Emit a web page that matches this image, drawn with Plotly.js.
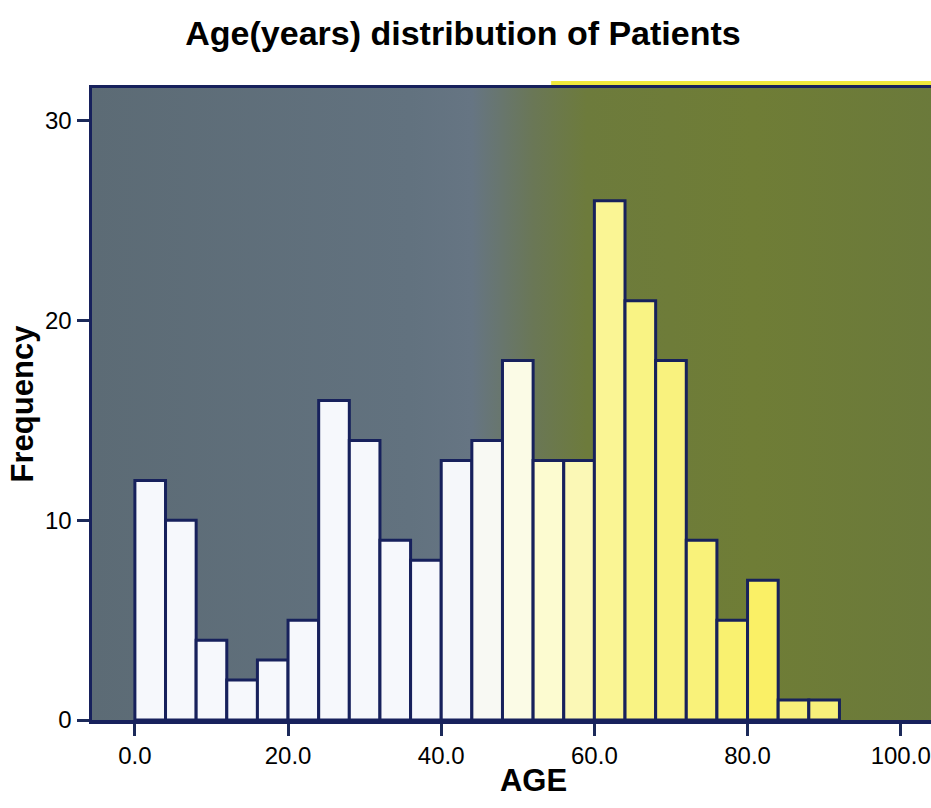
<!DOCTYPE html>
<html>
<head>
<meta charset="utf-8">
<script src="https://cdn.plot.ly/plotly-3.0.1.min.js"></script>
<style>
  html, body { margin: 0; padding: 0; overflow: hidden; background: #fff; }
  #chart { width: 975px; height: 808px; }
</style>
</head>
<body>
<div id="chart"></div>
<script>
// Histogram bins (age, years) - bin width 4, starting at 0
const binStarts = [0, 4, 8, 12, 16, 20, 24, 28, 32, 36, 40, 44, 48, 52, 56, 60, 64, 68, 72, 76, 80, 84, 88];
const frequencies = [12, 10, 4, 2, 3, 5, 16, 14, 9, 8, 13, 14, 18, 13, 13, 26, 21, 18, 9, 5, 7, 1, 1];
const binWidth = 4;
const xTickVals = [0, 20, 40, 60, 80, 100];
const xTickText = ["0.0", "20.0", "40.0", "60.0", "80.0", "100.0"];
const yTickVals = [0, 10, 20, 30];

// bar fill colours (white on left fading to yellow on right)
const barColors = [
  "#f6f8fc", "#f6f8fc", "#f6f8fc", "#f6f8fc", "#f6f8fc", "#f6f8fc",
  "#f6f8fc", "#f6f8fc", "#f6f8fc", "#f6f8fc", "#f5f7fa", "#f8f9f3",
  "#fbfbe6", "#fcfbd0", "#fbf8b6", "#faf594", "#f9f384", "#f9f27e",
  "#f9f27a", "#f9f170", "#faf066", "#f8f07a", "#f8f07a"
];

const centers = binStarts.map(s => s + binWidth / 2);

const trace = {
  type: "bar",
  x: centers,
  y: frequencies,
  width: binStarts.map(() => binWidth),
  marker: {
    color: barColors,
    line: { color: "#17215c", width: 3 }
  },
  hoverinfo: "x+y"
};

const gradSvg =
  '<svg xmlns="http://www.w3.org/2000/svg" width="100" height="100" preserveAspectRatio="none">' +
  '<defs><linearGradient id="g" x1="0" y1="0" x2="1" y2="0">' +
  '<stop offset="0" stop-color="#5c6b75"/>' +
  '<stop offset="0.36" stop-color="#62727f"/>' +
  '<stop offset="0.43" stop-color="#667583"/>' +
  '<stop offset="0.50" stop-color="#6a7756"/>' +
  '<stop offset="0.56" stop-color="#6d7b3c"/>' +
  '<stop offset="0.75" stop-color="#6f7d36"/>' +
  '<stop offset="1" stop-color="#6a793c"/>' +
  '</linearGradient></defs>' +
  '<rect width="100" height="100" fill="url(#g)"/></svg>';
const gradUri = "data:image/svg+xml;charset=utf-8," + encodeURIComponent(gradSvg);

const FONT = "Liberation Sans, Arial, sans-serif";

const layout = {
  width: 975,
  height: 808,
  margin: { l: 92, r: 0, t: 88, b: 88 },
  paper_bgcolor: "#ffffff",
  plot_bgcolor: "rgba(0,0,0,0)",
  showlegend: false,
  bargap: 0,
  title: {
    text: "<b>Age(years) distribution of Patients</b>",
    font: { family: FONT, size: 34, color: "#000" },
    x: 463 / 975, xref: "container", xanchor: "center",
    y: 1 - 33 / 808, yref: "container", yanchor: "middle"
  },
  xaxis: {
    range: [-5.6, 109.7],
    tickmode: "array",
    tickvals: xTickVals,
    ticktext: xTickText,
    ticks: "outside",
    ticklen: 12,
    tickwidth: 3,
    tickcolor: "#1c2a5a",
    showgrid: false,
    zeroline: false,
    showline: true,
    linecolor: "#17215c",
    linewidth: 3.5,
    mirror: true,
    tickfont: { family: FONT, size: 24, color: "#000" },
    title: {
      text: "<b>AGE</b>",
      font: { family: FONT, size: 31, color: "#000" },
      standoff: 2
    }
  },
  yaxis: {
    range: [0, 31.65],
    tickmode: "array",
    tickvals: yTickVals,
    ticks: "outside",
    ticklen: 12,
    tickwidth: 3,
    tickcolor: "#1c2a5a",
    showgrid: false,
    zeroline: false,
    showline: true,
    linecolor: "#17215c",
    linewidth: 3.5,
    mirror: false,
    tickfont: { family: FONT, size: 24, color: "#000" },
    title: {
      text: "<b>Frequency</b>",
      font: { family: FONT, size: 31, color: "#000" },
      standoff: 3
    }
  },
  images: [{
    source: gradUri,
    xref: "paper", yref: "paper",
    x: 0, y: 1, sizex: 1, sizey: 1,
    xanchor: "left", yanchor: "top",
    sizing: "stretch",
    layer: "below"
  }],
  shapes: [{
    type: "rect", xref: "paper", yref: "paper",
    x0: 0.52, x1: 1, y0: 1.004, y1: 1.011,
    fillcolor: "#f0e93c", line: { width: 0 }, layer: "below"
  }]
};

Plotly.newPlot("chart", [trace], layout, { displayModeBar: false, staticPlot: true });
</script>
</body>
</html>
